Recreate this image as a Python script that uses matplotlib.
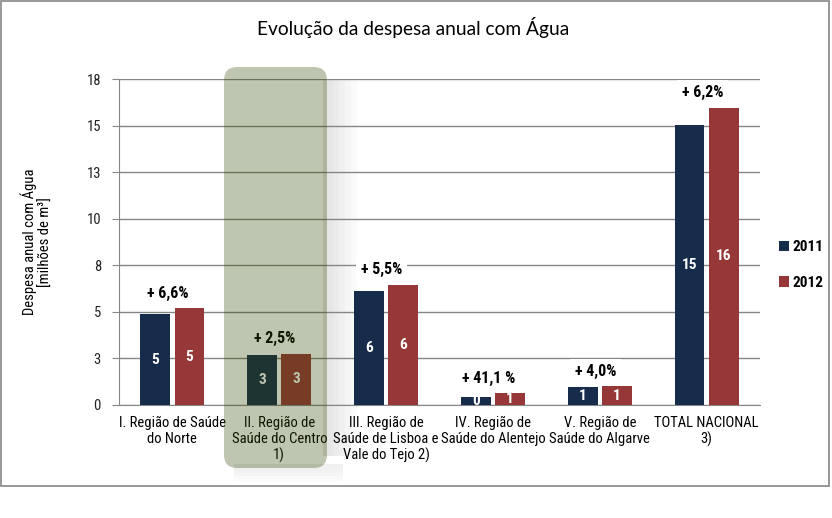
import matplotlib
matplotlib.use('Agg')
import matplotlib.pyplot as plt
from matplotlib import font_manager
from matplotlib.patches import FancyBboxPatch, Rectangle
import numpy as np

# Data (millions of m3)
categories = ['I. Região de Saúde\ndo Norte',
              'II. Região de\nSaúde do Centro\n1)',
              'III. Região de\nSaúde de Lisboa e\nVale do Tejo 2)',
              'IV. Região de\nSaúde do Alentejo',
              'V. Região de\nSaúde do Algarve',
              'TOTAL NACIONAL\n3)']
values_2011 = [4.87, 2.68, 6.12, 0.44, 0.97, 15.03]
values_2012 = [5.19, 2.75, 6.45, 0.62, 1.01, 15.96]
growth_labels = ['+ 6,6%', '+ 2,5%', '+ 5,5%', '+ 41,1 %', '+ 4,0%', '+ 6,2%']
y_ticks = [0, 2.5, 5, 7.5, 10, 12.5, 15, 17.5]

color_2011 = '#172c4a'
color_2012 = '#963837'
grid_color = '#868686'


# look for a narrow sans font (the original uses Arial Narrow)
def find_narrow(bold):
    cands = []
    for f in font_manager.fontManager.ttflist:
        fn = f.fname.lower()
        if ('narrow' in fn or 'condensed' in fn) and 'italic' not in fn and 'oblique' not in fn:
            is_bold = 'bold' in fn and 'semibold' not in fn and 'extrabold' not in fn
            if is_bold == bold and 'light' not in fn and 'semi' not in fn and 'thin' not in fn \
                    and 'black' not in fn and 'medium' not in fn and 'extra' not in fn:
                cands.append(f.fname)
    pref = ['liberationsansnarrow', 'robotocondensed', 'dejavusanscondensed', 'opensans']
    for p in pref:
        for c in cands:
            if p in c.lower().replace('-', '').replace('_', ''):
                return c
    return cands[0] if cands else None


reg_file = find_narrow(False)
bold_file = find_narrow(True)
if reg_file:
    fp_reg = lambda s: font_manager.FontProperties(fname=reg_file, size=s)
else:
    fp_reg = lambda s: font_manager.FontProperties(family='Liberation Sans', size=s * 0.88)
if bold_file:
    fp_bold = lambda s: font_manager.FontProperties(fname=bold_file, size=s)
else:
    fp_bold = lambda s: font_manager.FontProperties(family='Liberation Sans', weight='bold',
                                                    size=s * 0.88)

fig = plt.figure(figsize=(8.32, 5.18), dpi=100)
ax = fig.add_axes([119 / 832, 1 - 405 / 518, 641 / 832, 326 / 518])
ax.set_facecolor('none')

x = np.arange(len(categories))
w = 0.28
off = 0.16
b1 = ax.bar(x - off, values_2011, w, color=color_2011, label='2011', zorder=3)
b2 = ax.bar(x + off, values_2012, w, color=color_2012, label='2012', zorder=3)

# value labels inside bars
for bars in (b1, b2):
    for r in bars:
        h = r.get_height()
        ax.text(r.get_x() + r.get_width() / 2, h / 2, f'{h:.0f}', ha='center', va='center',
                color='white', fontproperties=fp_bold(11), zorder=4)

# growth labels above groups
for i, lab in enumerate(growth_labels):
    top = max(values_2011[i], values_2012[i])
    ax.annotate(lab, (x[i] - 0.04, top), xytext=(0, 15), textcoords='offset pixels',
                ha='center', va='center', fontproperties=fp_bold(11.5), zorder=5,
                bbox=dict(boxstyle='square,pad=0.3', fc='white', ec='none'))

ax.set_xlim(-0.5, len(categories) - 0.5)
ax.set_ylim(0, 17.5)
ax.set_yticks(y_ticks)
ax.set_yticklabels([f'{int(t + 0.5)}' for t in y_ticks])
ax.set_xticks(x)
ax.set_xticklabels(categories, linespacing=1.15)
for t in ax.get_xticklabels() + ax.get_yticklabels():
    t.set_fontproperties(fp_reg(10.5))
ax.tick_params(axis='x', length=0, pad=8)
ax.tick_params(axis='y', length=5, color=grid_color, pad=8, labelcolor='#222222')
ax.yaxis.grid(True, color=grid_color, linewidth=1, zorder=0)
ax.set_axisbelow(True)
for s in ['top', 'right']:
    ax.spines[s].set_visible(False)
for s in ['left', 'bottom']:
    ax.spines[s].set_color(grid_color)

ax.set_ylabel('Despesa anual com Água\n[milhões de m³]', fontproperties=fp_reg(10.5),
              labelpad=24, linespacing=1.2)

leg = fig.legend(loc='center left', bbox_to_anchor=(765 / 832, 1 - 265 / 518), frameon=False,
                 handlelength=0.7, handleheight=0.7, handletextpad=0.2, labelspacing=1.4,
                 prop=fp_bold(11))

fig.text(413 / 832, 1 - 27 / 518, 'Evolução da despesa anual com Água', ha='center', va='center',
         fontsize=13.8, family=['Lato', 'DejaVu Sans'])

# highlight box over the Centro region, with a soft shadow on its right and below
x0, y0, bw, bh = 224 / 832, 1 - 468 / 518, 103 / 832, 401 / 518
for k in [30, 24, 18, 12, 6]:
    fig.patches.append(Rectangle((x0 + bw - 4 / 832, y0 + 12 / 518), (k + 4) / 832,
                                 bh - 24 / 518, transform=fig.transFigure, fc='#000000',
                                 ec='none', alpha=0.018, zorder=-1))
    fig.patches.append(Rectangle((x0 + 10 / 832, y0 - k * 0.45 / 518), bw + 6 / 832,
                                 (k * 0.45 + 4) / 518, transform=fig.transFigure, fc='#000000',
                                 ec='none', alpha=0.012, zorder=-1))
fig.patches.append(FancyBboxPatch((x0, y0), bw, bh, boxstyle='round,pad=0,rounding_size=0.016',
                                  transform=fig.transFigure, fc='#304600', ec='none', alpha=0.31,
                                  zorder=5, mutation_aspect=832 / 518))

# outer border
fig.patches.append(Rectangle((1 / 832, 1 - 486 / 518), 828 / 832, 485 / 518,
                             transform=fig.transFigure, fill=False, ec=grid_color, lw=1.2,
                             zorder=6))

fig.savefig('out.png', dpi=100)
